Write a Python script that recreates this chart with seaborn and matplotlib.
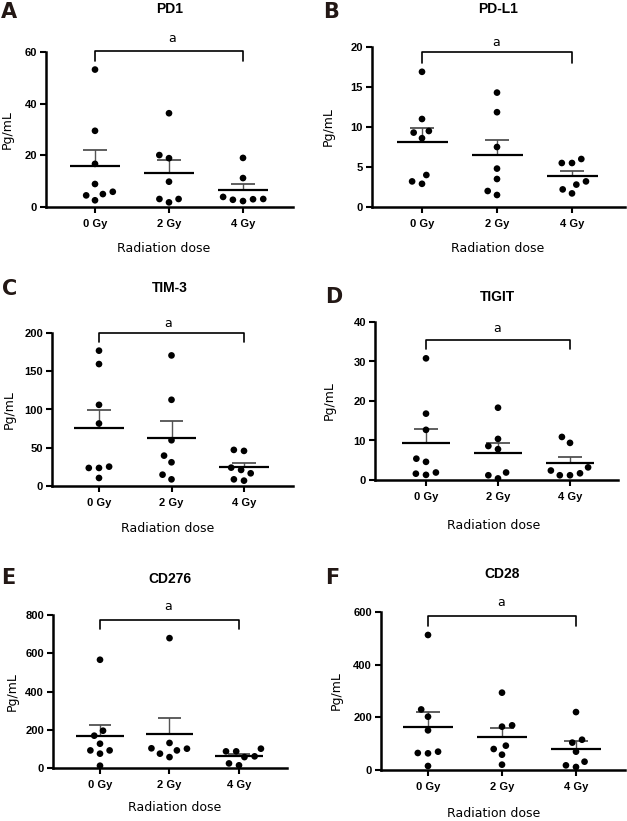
import numpy as np
import pandas as pd
import matplotlib
matplotlib.use("Agg")
import matplotlib.pyplot as plt
from matplotlib.lines import Line2D
from matplotlib.transforms import blended_transform_factory
import seaborn as sns

# ---------------- data ----------------
doses = ["0 Gy", "2 Gy", "4 Gy"]
panel_letters = ["A", "B", "C", "D", "E", "F"]
panel_titles = ["PD1", "PD-L1", "TIM-3", "TIGIT", "CD276", "CD28"]
y_label = "Pg/mL"
x_label = "Radiation dose"
sig_label = "a"

pd1_0 = [53.2, 29.5, 16.7, 8.9, 5.9, 5.0, 4.5, 2.6]
pd1_2 = [36.3, 20.1, 18.9, 9.8, 3.1, 3.1, 1.8]
pd1_4 = [19.0, 11.2, 3.9, 2.8, 3.0, 3.1, 2.3]

pdl1_0 = [16.9, 11.0, 9.5, 9.3, 8.6, 4.0, 3.2, 2.9]
pdl1_2 = [14.3, 11.85, 7.5, 4.8, 3.5, 2.0, 1.5]
pdl1_4 = [5.5, 6.0, 5.5, 1.7, 2.8, 3.2, 2.2]

tim3_0 = [176.9, 159.4, 106.1, 81.7, 25.3, 23.6, 23.6, 10.5]
tim3_2 = [170.7, 112.7, 59.8, 39.7, 31.0, 14.8, 8.7]
tim3_4 = [45.9, 47.2, 24.0, 21.0, 16.6, 7.0, 8.7]

tigit_0 = [30.8, 16.8, 12.7, 5.4, 4.6, 1.9, 1.6, 1.3]
tigit_2 = [18.3, 10.4, 8.6, 7.8, 1.9, 1.2, 0.4]
tigit_4 = [10.9, 9.4, 3.2, 2.4, 1.7, 1.2, 1.2]

cd276_0 = [566, 195, 169, 127, 92, 92, 75, 12]
cd276_2 = [679, 131, 103, 101, 92, 75, 57]
cd276_4 = [87, 57, 14, 101, 61, 24, 87]

cd28_0 = [512.7, 230, 202.5, 150.6, 69.6, 63.3, 64.6, 15.2]
cd28_2 = [293.7, 169.6, 164.6, 92.4, 79.7, 58.2, 20.3]
cd28_4 = [220, 115, 104, 69.6, 31.6, 17.7, 11.4]

y_maxes = [60, 20, 200, 40, 800, 600]
y_steps = [20, 5, 50, 10, 200, 200]

panel_values = [
    [pd1_0, pd1_2, pd1_4],
    [pdl1_0, pdl1_2, pdl1_4],
    [tim3_0, tim3_2, tim3_4],
    [tigit_0, tigit_2, tigit_4],
    [cd276_0, cd276_2, cd276_4],
    [cd28_0, cd28_2, cd28_4],
]

# ---------------- layout (pixels) ----------------
W, H = 627, 821
# left, right, top, bottom of axes; category 0 / 2 pixel x
axes_px = [
    (46, 293, 52, 207, 95, 243),
    (372, 625, 47, 207, 422, 572),
    (52, 293, 333, 486, 99, 244),
    (375, 618, 322, 480, 426, 570),
    (53, 287, 615, 768, 100, 239),
    (381, 625, 612, 770, 428, 576),
]
letter_px = [(9, 12), (331, 12), (10, 289), (334, 297), (8, 578), (332, 578)]
title_px = [(170, 9), (498, 9), (170, 288), (497, 297), (170, 579), (502, 574)]
sig_px = [(172, 38), (496, 43), (168, 323), (497, 328), (168, 607), (501, 603)]
bracket_px = [(51, 61), (52, 63), (333, 342), (340, 349), (620, 629), (616, 626)]
ylab_px = [(7, 130), (328, 127), (9, 410), (329, 401), (12, 692), (336, 691)]
xlab_px = [(164, 248), (498, 248), (168, 528), (494, 525), (175, 807), (494, 813)]

sns.set_style("ticks")
plt.rcParams["font.family"] = ["DejaVu Sans"]
plt.rcParams["text.color"] = "black"
plt.rcParams["xtick.color"] = "black"
plt.rcParams["ytick.color"] = "black"
plt.rcParams["axes.labelcolor"] = "black"

fig = plt.figure(figsize=(W / 100, H / 100), dpi=100)


def fx(x):
    return x / W


def fy(y):
    return 1 - y / H


for i in range(6):
    l, r, t, b, c0, c2 = axes_px[i]
    ax = fig.add_axes([fx(l), fy(b), (r - l) / W, (b - t) / H])
    vals = panel_values[i]
    df = pd.DataFrame({
        "dose": np.concatenate([[d] * len(v) for d, v in zip(doses, vals)]),
        "value": np.concatenate([np.asarray(v, float) for v in vals]),
    })

    # mean and SEM
    for k, v in enumerate(vals):
        arr = np.asarray(v, float)
        m = arr.mean()
        se = arr.std(ddof=1) / np.sqrt(len(arr))
        ax.vlines(k, m, m + se, color="#555555", lw=1.0, zorder=2, clip_on=False)
        ax.hlines(m + se, k - 0.16, k + 0.16, color="#333333", lw=1.1, zorder=2, clip_on=False)
        ax.hlines(m, k - 0.34, k + 0.34, color="black", lw=1.6, zorder=2, clip_on=False)

    sns.swarmplot(data=df, x="dose", y="value", order=doses, ax=ax,
                  color="black", size=4.8, linewidth=2.2, edgecolor="none",
                  clip_on=False, zorder=3)

    s = (c2 - c0) / 2
    ax.set_xlim(-(c0 - l) / s, 2 + (r - c2) / s)
    ax.set_ylim(0, y_maxes[i])
    ax.set_yticks(np.arange(0, y_maxes[i] + 1e-9, y_steps[i]))
    ax.set_xlabel("")
    ax.set_ylabel("")
    sns.despine(ax=ax)
    for sp in ["left", "bottom"]:
        ax.spines[sp].set_linewidth(1.8)
        ax.spines[sp].set_color("black")
    ax.tick_params(axis="both", length=4.5, width=1.5, color="black", labelcolor="black", pad=2)
    ax.tick_params(axis="x", pad=4)
    for lab in ax.get_xticklabels() + ax.get_yticklabels():
        lab.set_fontfamily("Liberation Sans")
        lab.set_fontweight("bold")
        lab.set_fontsize(8)

    # bracket
    trans = blended_transform_factory(ax.transData, fig.transFigure)
    yb, yd = bracket_px[i]
    ax.add_line(Line2D([0, 0, 2, 2], [fy(yd), fy(yb), fy(yb), fy(yd)],
                       transform=trans, color="black", lw=1.2, clip_on=False))

    fig.text(fx(sig_px[i][0]), fy(sig_px[i][1]), sig_label, ha="center", va="center",
             fontsize=9, color="black")
    fig.text(fx(title_px[i][0]), fy(title_px[i][1]), panel_titles[i], ha="center", va="center",
             fontsize=10, fontweight="bold", fontfamily="Liberation Sans", color="black")
    fig.text(fx(letter_px[i][0]), fy(letter_px[i][1]), panel_letters[i], ha="center", va="center",
             fontsize=15, fontweight="heavy", color="#231815")
    fig.text(fx(ylab_px[i][0]), fy(ylab_px[i][1]), y_label, ha="center", va="center",
             rotation=90, fontsize=9, color="black")
    fig.text(fx(xlab_px[i][0]), fy(xlab_px[i][1]), x_label, ha="center", va="center",
             fontsize=9, color="black")

fig.savefig("out.png", dpi=100)
